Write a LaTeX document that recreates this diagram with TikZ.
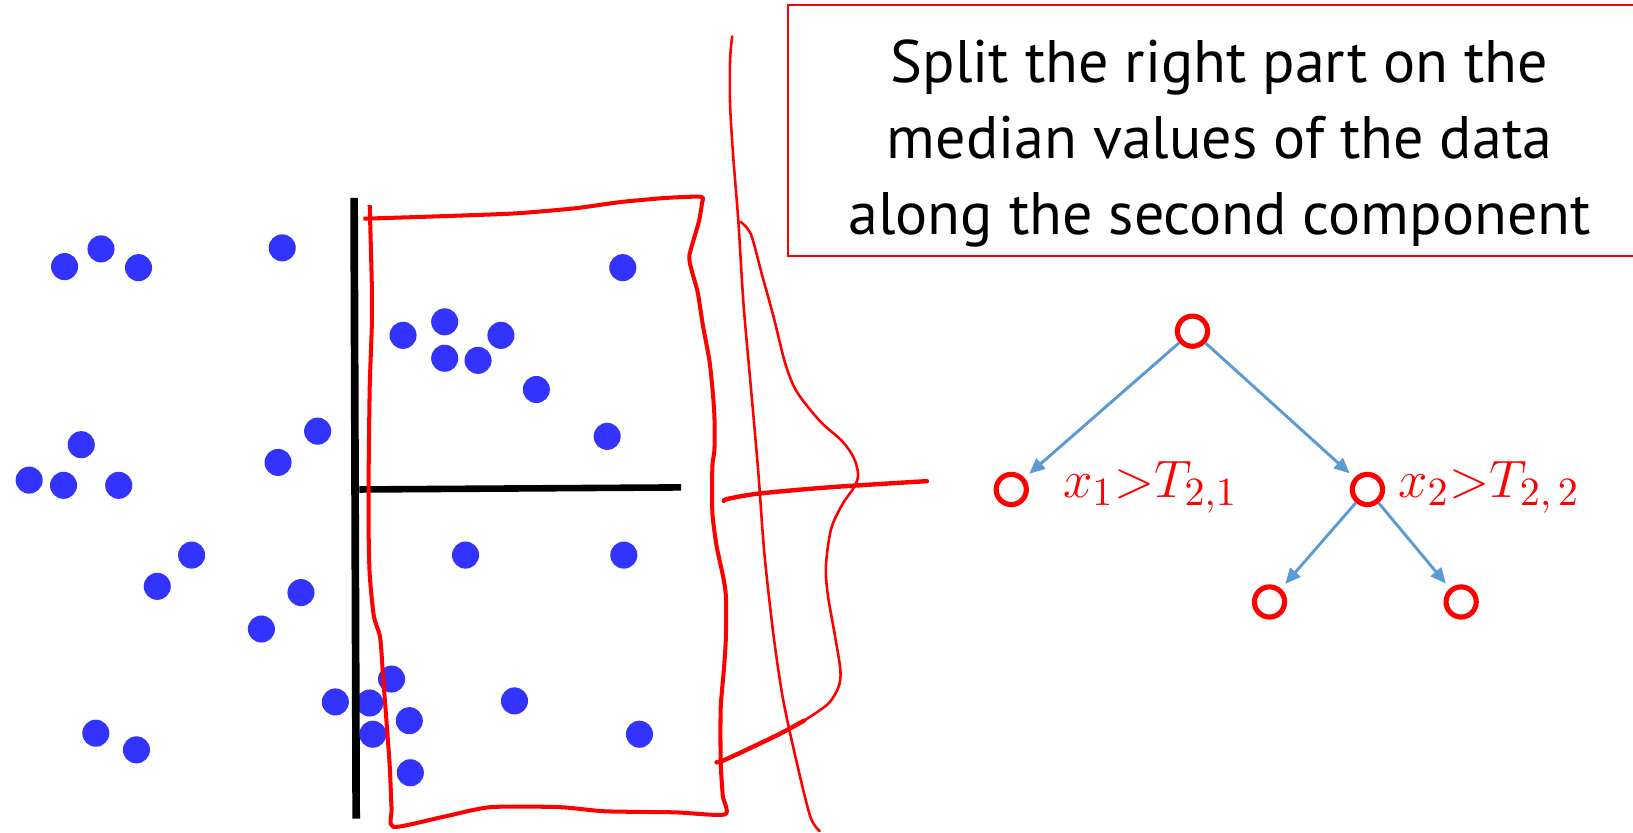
\documentclass[tikz,border=0pt]{standalone}
\usepackage{fontspec}
\setsansfont{PT Sans}
\usetikzlibrary{arrows.meta}
\definecolor{dotblue}{RGB}{51,51,255}
\definecolor{arrowblue}{RGB}{91,155,213}
\begin{document}
\begin{tikzpicture}[x=0.1mm, y=-0.1mm,
  handline/.style={red, line width=0.7pt, line cap=round, line join=round},
  treenode/.style={circle, draw=red, line width=1.4pt, minimum size=2.9mm, inner sep=0pt},
  treearrow/.style={arrowblue, line width=0.8pt, -{Triangle[length=1.5mm,width=1.3mm]}, shorten >=0.6mm},
  splitlbl/.style={red, font=\fontsize{15.5}{18}\selectfont, inner sep=0pt}]
\useasboundingbox (0,0) rectangle (1568,799);
% data points
\fill[dotblue] (62,256) circle (1.3mm) (97,239) circle (1.3mm) (133,257) circle (1.3mm) (271,238) circle (1.3mm)
  (78,427) circle (1.3mm) (28,461) circle (1.3mm) (61,466) circle (1.3mm) (114,466) circle (1.3mm)
  (267,444) circle (1.3mm) (305,414) circle (1.3mm) (184,533) circle (1.3mm) (151,563) circle (1.3mm)
  (289,569) circle (1.3mm) (251,604) circle (1.3mm) (92,704) circle (1.3mm) (131,720) circle (1.3mm)
  (322,674) circle (1.3mm) (355,675) circle (1.3mm) (376,652) circle (1.3mm) (358,705) circle (1.3mm)
  (393,692) circle (1.3mm) (394,742) circle (1.3mm);
\fill[dotblue] (598,257) circle (1.3mm) (387,322) circle (1.3mm) (427,309) circle (1.3mm) (481,322) circle (1.3mm)
  (427,344) circle (1.3mm) (459,346) circle (1.3mm) (515,374) circle (1.3mm) (583,419) circle (1.3mm)
  (447,533) circle (1.3mm) (599,533) circle (1.3mm) (494,673) circle (1.3mm) (614,705) circle (1.3mm);
% first split and the second one
\draw[line width=2.1pt] (340,190) -- (342,786);
\draw[line width=1.8pt] (345,470) -- (654,468);
% right part
\draw[red, line width=1.1pt, line join=round] plot[smooth, tension=0.4] coordinates {(349,210) (412,208) (493,205)
  (552,200) (596,194) (640,190) (673,189) (674,195) (671,213) (662,245) (664,259) (670,281) (675,313) (681,345)
  (684,372) (686,400) (686,432) (684,448) (684,492) (688,524) (694,552) (697,572) (697,612) (695,644) (692,680)
  (692,732) (694,764) (696,782) (648,780) (581,779) (537,775) (471,775) (427,784) (378,794) (376,776) (374,732)
  (368,652) (365,612) (359,592) (355,552) (354,512) (354,452) (355,372) (357,313) (357,273) (355,197)};
% axis and distribution along the second component
\draw[handline] plot[smooth] coordinates {(703,35) (701,58) (701,100) (704,150) (709,213) (714,293) (721,372)
  (728,452) (734,532) (743,612) (752,672) (765,732) (778,784) (787,798)};
\draw[handline] plot[smooth, tension=0.5] coordinates {(711,213) (721,225) (732,265) (743,305) (754,349) (765,376)
  (787,404) (809,424) (820,440) (824,456) (820,468) (809,484) (798,508) (793,544) (795,572) (802,612) (807,644)
  (805,660) (795,676) (772,692)};
\draw[handline, line width=1.2pt] plot[smooth] coordinates {(772,692) (750,704) (721,718) (695,730) (688,732)};
\draw[handline, line width=1.2pt] plot[smooth] coordinates {(695,481) (699,479) (728,474) (795,468) (890,462)};
% note
\draw[red, line width=0.5pt] (757,5) rectangle (1590,246);
\node[align=center, font=\sffamily\fontsize{16.4}{20.8}\selectfont] (note) at (1171,138)
  {Split the right part on the\\median values of the data\\along the second component};
% tree
\node[treenode] (root) at (1145,318) {};
\node[treenode] (left) at (971,470) {};
\node[treenode] (right) at (1313,470) {};
\node[treenode] (rleft) at (1219,578) {};
\node[treenode] (rright) at (1403,578) {};
\draw[treearrow] (root) -- (left);
\draw[treearrow] (root) -- (right);
\draw[treearrow] (right) -- (rleft);
\draw[treearrow] (right) -- (rright);
\node[splitlbl, anchor=base west] (lblleft) at (1020,478) {$x_1{>}T_{2,1}$};
\node[splitlbl, anchor=base west] (lblright) at (1342,478) {$x_2{>}T_{2,\,2}$};
\end{tikzpicture}
\end{document}
